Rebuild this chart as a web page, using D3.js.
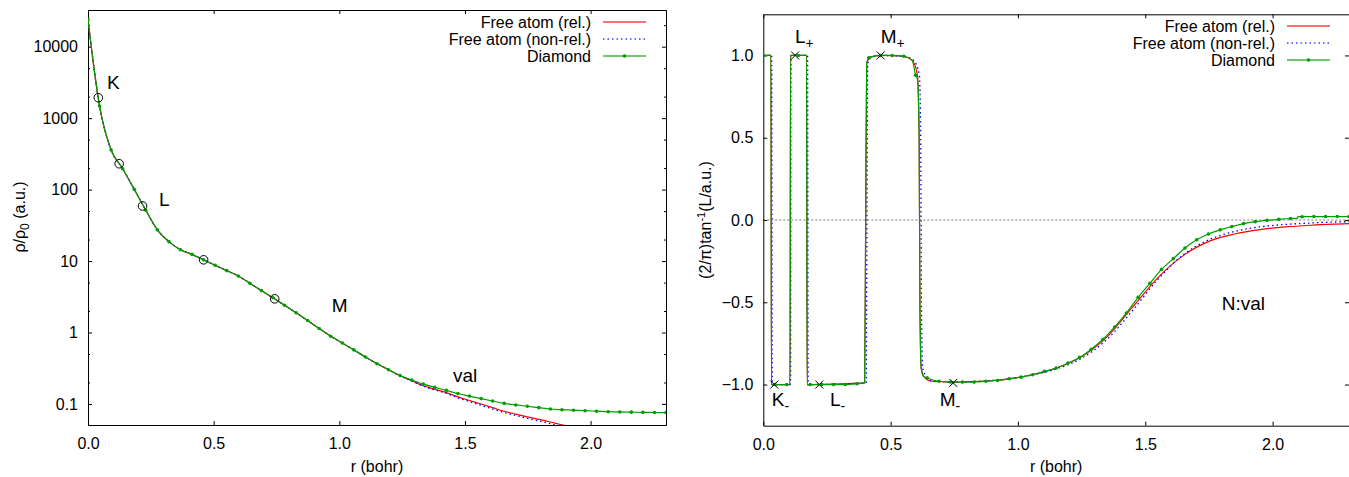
<!doctype html>
<html>
<head>
<script src="https://cdnjs.cloudflare.com/ajax/libs/d3/7.8.5/d3.min.js"></script>
<style>
  body { margin: 0; background: #fff; }
  svg text { font-family: "Liberation Sans", Arial, Helvetica, sans-serif; fill: #000; }
  .tick text { font-size: 16px; }
  .axis path, .axis line { stroke: #000; stroke-width: 1px; }
  .lbl { font-size: 16px; }
  .ann { font-size: 19px; }
  .leg { font-size: 16px; text-anchor: end; }
</style>
</head>
<body>
<svg width="1349" height="477"></svg>
<script>
// ---- data ----
var gridR = [0, 0.046, 0.092, 0.138, 0.184, 0.23, 0.276, 0.322, 0.368, 0.414, 0.46, 0.506, 0.552, 0.598,
  0.644, 0.69, 0.736, 0.782, 0.828, 0.874, 0.92, 0.966, 1.012, 1.058, 1.104, 1.15, 1.196, 1.242, 1.288,
  1.334, 1.38, 1.426, 1.472, 1.518, 1.564, 1.61, 1.656, 1.702, 1.748, 1.794, 1.84, 1.886, 1.932, 1.978,
  2.024, 2.07, 2.116, 2.162, 2.208, 2.254, 2.3];

// left panel: rho/rho0
var diamondRho = [23900, 1476, 359, 196, 101, 51.4, 27.4, 18.7, 14.4, 12.4, 10.4, 8.73, 7.35, 6.18,
  4.90, 3.86, 3.06, 2.41, 1.89, 1.47, 1.14, 0.887, 0.713, 0.571, 0.454, 0.366, 0.302, 0.25, 0.217,
  0.19, 0.171, 0.155, 0.14, 0.129, 0.119, 0.110, 0.102, 0.0969, 0.0929, 0.0889, 0.0851, 0.0832, 0.0818,
  0.0805, 0.0793, 0.078, 0.0773, 0.0769, 0.0764, 0.076, 0.0759];
var relRho = [23900, 1476, 359, 196, 101, 51.4, 27.4, 18.7, 14.4, 12.4, 10.4, 8.73, 7.35, 6.18,
  4.90, 3.86, 3.06, 2.41, 1.89, 1.47, 1.14, 0.887, 0.713, 0.571, 0.454, 0.366, 0.302, 0.248, 0.212,
  0.18, 0.161, 0.144, 0.126, 0.112, 0.1, 0.089, 0.079, 0.072, 0.066, 0.061, 0.056, 0.051, 0.047,
  0.043, 0.04, 0.037, 0.034, 0.031, 0.029, 0.027, 0.025];
var nonRelRho = [23900, 1476, 359, 196, 101, 51.4, 27.4, 18.7, 14.4, 12.4, 10.4, 8.73, 7.35, 6.18,
  4.90, 3.86, 3.06, 2.41, 1.89, 1.47, 1.14, 0.887, 0.713, 0.571, 0.454, 0.366, 0.302, 0.247, 0.21,
  0.177, 0.158, 0.141, 0.122, 0.108, 0.096, 0.085, 0.076, 0.069, 0.063, 0.058, 0.053, 0.048, 0.044,
  0.041, 0.038, 0.035, 0.032, 0.03, 0.028, 0.026, 0.024];
var shellR = [0.041, 0.124, 0.217, 0.46, 0.743];
var shellRho = [1930, 230, 59, 10.4, 2.96];
var leftLabels = ["K", "L", "M", "val"];
var leftLabelR = [0.0756, 0.2825, 0.97, 1.452];
var leftLabelRho = [2560, 59.3, 1.94, 0.201];

// right panel: (2/pi) atan(L)
var diamondPhase = [1, -1, -1, 1, -1, -1, -1, -1, -0.995, 0.985, 1, 1, 0.995, 0.88,
  -0.96, -0.98, -0.985, -0.985, -0.985, -0.98, -0.975, -0.965, -0.955, -0.94, -0.92, -0.9, -0.87,
  -0.835, -0.785, -0.725, -0.65, -0.565, -0.47, -0.385, -0.3, -0.235, -0.17, -0.12, -0.085, -0.06,
  -0.04, -0.022, -0.01, -0.002, 0.004, 0.009, 0.02, 0.021, 0.021, 0.021, 0.021];
var diamondStepR = [0.030, 0.032, 0.105, 0.107, 0.170, 0.172, 0.398, 0.402, 0.406, 0.42, 0.585, 0.606,
  0.612, 0.615, 0.62, 0.63, 2.096, 2.1];
var diamondStepPhase = [1, -1, -1, 1, 1, -1, -0.99, 0, 0.95, 0.99, 0.97, 0.85, 0.5, -0.5, -0.9, -0.95,
  0.01, 0.02];
var relR = [0, 0.030, 0.032, 0.105, 0.107, 0.170, 0.172, 0.398, 0.402, 0.406, 0.42, 0.46, 0.55, 0.585,
  0.605, 0.612, 0.615, 0.62, 0.63, 0.66, 0.75, 0.85, 0.95, 1.05, 1.15, 1.25, 1.35, 1.45, 1.55, 1.65,
  1.75, 1.85, 1.95, 2.05, 2.15, 2.25, 2.3];
var relPhase = [1, 1, -1, -1, 1, 1, -1, -0.99, 0, 0.95, 0.99, 1, 0.995, 0.97, 0.88, 0.5, -0.5, -0.9,
  -0.95, -0.98, -0.985, -0.98, -0.968, -0.942, -0.9, -0.83, -0.71, -0.53, -0.35, -0.215, -0.13,
  -0.085, -0.058, -0.042, -0.032, -0.025, -0.022];
var nonRelR = [0, 0.033, 0.035, 0.107, 0.109, 0.174, 0.176, 0.404, 0.407, 0.41, 0.425, 0.46, 0.55,
  0.59, 0.613, 0.618, 0.621, 0.626, 0.64, 0.67, 0.75, 0.85, 0.95, 1.05, 1.15, 1.25, 1.35, 1.45, 1.55,
  1.65, 1.75, 1.85, 1.95, 2.05, 2.15, 2.25, 2.3];
var nonRelPhase = [1, 1, -1, -1, 1, 1, -1, -0.99, 0, 0.95, 0.99, 1, 0.995, 0.97, 0.88, 0.5, -0.5, -0.9,
  -0.95, -0.98, -0.985, -0.98, -0.968, -0.944, -0.905, -0.84, -0.725, -0.55, -0.36, -0.21, -0.12,
  -0.07, -0.042, -0.027, -0.018, -0.012, -0.01];
var crossR = [0.043, 0.125, 0.22, 0.461, 0.746];
var crossPhase = [-1, 1, -1, 1, -0.99];
var rightLabels = [["K", "-"], ["L", "+"], ["L", "-"], ["M", "+"], ["M", "-"], ["N:val", ""]];
var rightLabelR = [0.033, 0.124, 0.262, 0.461, 0.693, 1.8];
var rightLabelPhase = [-1.133, 1.078, -1.133, 1.078, -1.133, -0.548];

var seriesNames = ["Free atom (rel.)", "Free atom (non-rel.)", "Diamond"];
var seriesColors = ["#ff0000", "#0000ff", "#009e00"];

// ---- drawing ----
var svg = d3.select("svg");
var zip = (a, b) => a.map((v, i) => [v, b[i]]);

function panel(opt) {
  var g = svg.append("g");
  var x = d3.scaleLinear().domain([0, 2.3]).range([opt.x0, opt.x1]);
  var y = opt.y;

  g.append("clipPath").attr("id", opt.id).append("rect")
    .attr("x", opt.x0).attr("y", y.range()[1])
    .attr("width", opt.x1 - opt.x0).attr("height", y.range()[0] - y.range()[1]);

  var xt = [0, 0.5, 1.0, 1.5, 2.0];
  g.append("g").attr("class", "axis").attr("transform", `translate(0,${y.range()[0]})`)
    .call(d3.axisBottom(x).tickValues(xt).tickFormat(d3.format(".1f")).tickSize(-4).tickSizeOuter(0).tickPadding(13));
  g.append("g").attr("class", "axis").attr("transform", `translate(0,${y.range()[1]})`)
    .call(d3.axisTop(x).tickValues(xt).tickFormat("").tickSize(-4).tickSizeOuter(0));
  g.append("g").attr("class", "axis").attr("transform", `translate(${opt.x0},0)`)
    .call(d3.axisLeft(y).tickValues(opt.yTicks).tickFormat(opt.yFormat).tickSize(-4).tickSizeOuter(0).tickPadding(10));
  g.append("g").attr("class", "axis").attr("transform", `translate(${opt.x1},0)`)
    .call(d3.axisRight(y).tickValues(opt.yTicks).tickFormat("").tickSize(-4).tickSizeOuter(0));
  if (opt.minor) {
    g.append("g").attr("class", "axis").attr("transform", `translate(${opt.x0},0)`)
      .call(d3.axisLeft(y).tickValues(opt.minor).tickFormat("").tickSize(-2).tickSizeOuter(0));
    g.append("g").attr("class", "axis").attr("transform", `translate(${opt.x1},0)`)
      .call(d3.axisRight(y).tickValues(opt.minor).tickFormat("").tickSize(-2).tickSizeOuter(0));
  }
  g.selectAll(".axis text").style("font-size", "16px");

  if (opt.zeroLine) {
    g.append("line").attr("x1", opt.x0).attr("x2", opt.x1)
      .attr("y1", y(0)).attr("y2", y(0))
      .attr("stroke", "#444").attr("stroke-width", 0.7).attr("stroke-dasharray", "2,2");
  }

  var line = d3.line().x(d => x(d[0])).y(d => y(d[1])).curve(d3.curveMonotoneX);
  var lines = g.append("g").attr("clip-path", `url(#${opt.id})`);
  lines.append("path").datum(opt.rel).attr("d", line)
    .attr("fill", "none").attr("stroke", seriesColors[0]).attr("stroke-width", 1.2);
  lines.append("path").datum(opt.nonRel).attr("d", line)
    .attr("fill", "none").attr("stroke", seriesColors[1]).attr("stroke-width", 1.3).attr("stroke-dasharray", "1.5,3");
  lines.append("path").datum(opt.diamondLine).attr("d", line)
    .attr("fill", "none").attr("stroke", seriesColors[2]).attr("stroke-width", 1.2);
  lines.selectAll("circle.mk").data(opt.diamondMarks).enter().append("circle")
    .attr("class", "mk").attr("cx", d => x(d[0])).attr("cy", d => y(d[1])).attr("r", 1.8)
    .attr("fill", seriesColors[2]);

  // legend
  seriesNames.forEach((name, i) => {
    var ly = opt.legY + i * 17;
    g.append("text").attr("class", "leg").attr("x", opt.legX).attr("y", ly).attr("dy", "0.35em").text(name);
    var l = g.append("line").attr("x1", opt.legX + 12).attr("x2", opt.legX + 55).attr("y1", ly).attr("y2", ly)
      .attr("stroke", seriesColors[i]).attr("stroke-width", 1.6).attr("stroke-opacity", 0.75);
    if (i == 1) l.attr("stroke-dasharray", "1.5,3");
    if (i == 2) g.append("circle").attr("cx", opt.legX + 33.5).attr("cy", ly).attr("r", 1.8).attr("fill", seriesColors[2]);
  });

  // x label
  g.append("text").attr("class", "lbl").attr("x", (opt.x0 + opt.x1) / 2).attr("y", 472)
    .attr("text-anchor", "middle").text("r (bohr)");
  return {g: g, x: x, y: y};
}

// left panel
var yL = d3.scaleLog().domain([0.0508, 32600]).range([425, 10]);
var left = panel({
  id: "clipL", x0: 88, x1: 666, y: yL,
  yTicks: [0.1, 1, 10, 100, 1000, 10000],
  minor: [0.2, 0.5, 2, 5, 20, 50, 200, 500, 2000, 5000, 20000],
  yFormat: d3.format("~g"),
  rel: zip(gridR, relRho), nonRel: zip(gridR, nonRelRho),
  diamondLine: zip(gridR, diamondRho), diamondMarks: zip(gridR, diamondRho),
  legX: 591, legY: 22
});
left.g.selectAll("circle.shell").data(zip(shellR, shellRho)).enter().append("circle")
  .attr("class", "shell").attr("cx", d => left.x(d[0])).attr("cy", d => left.y(d[1])).attr("r", 4.3)
  .attr("fill", "none").attr("stroke", "#000").attr("stroke-width", 1);
left.g.selectAll("text.ann").data(leftLabels).enter().append("text").attr("class", "ann")
  .attr("x", (d, i) => left.x(leftLabelR[i])).attr("y", (d, i) => left.y(leftLabelRho[i])).text(d => d);
var ylabL = left.g.append("text").attr("class", "lbl").attr("text-anchor", "middle")
  .attr("transform", "translate(25,217) rotate(-90)");
ylabL.append("tspan").text("ρ/ρ");
ylabL.append("tspan").attr("dy", 4).style("font-size", "12px").text("0");
ylabL.append("tspan").attr("dy", -4).text(" (a.u.)");

// right panel
var yR = d3.scaleLinear().domain([-1.25, 1.25]).range([425.7, 14.3]);
var dLine = zip(gridR, diamondPhase).concat(zip(diamondStepR, diamondStepPhase)).sort((a, b) => a[0] - b[0]);
var right = panel({
  id: "clipR", x0: 763.3, x1: 1349, y: yR,
  yTicks: [-1.0, -0.5, 0, 0.5, 1.0],
  yFormat: d3.format(".1f"),
  zeroLine: true,
  rel: zip(relR, relPhase), nonRel: zip(nonRelR, nonRelPhase),
  diamondLine: dLine, diamondMarks: zip(gridR, diamondPhase),
  legX: 1275, legY: 26
});
right.g.selectAll("path.cross").data(zip(crossR, crossPhase)).enter().append("path")
  .attr("class", "cross")
  .attr("d", d => { var cx = right.x(d[0]), cy = right.y(d[1]), s = 4;
    return `M${cx - s},${cy - s}L${cx + s},${cy + s}M${cx - s},${cy + s}L${cx + s},${cy - s}`; })
  .attr("stroke", "#000").attr("stroke-width", 1).attr("fill", "none");
rightLabels.forEach((d, i) => {
  var t = right.g.append("text").attr("class", "ann")
    .attr("x", right.x(rightLabelR[i])).attr("y", right.y(rightLabelPhase[i]));
  t.append("tspan").text(d[0]);
  if (d[1]) t.append("tspan").attr("dy", 5).style("font-size", "14px").text(d[1] == "-" ? "-" : "+");
});
var ylabR = right.g.append("text").attr("class", "lbl").attr("text-anchor", "middle")
  .attr("transform", "translate(711,220) rotate(-90)");
ylabR.append("tspan").text("(2/π)tan");
ylabR.append("tspan").attr("dy", -6).style("font-size", "11px").text("-1");
ylabR.append("tspan").attr("dy", 6).text("(L/a.u.)");
</script>
</body>
</html>
